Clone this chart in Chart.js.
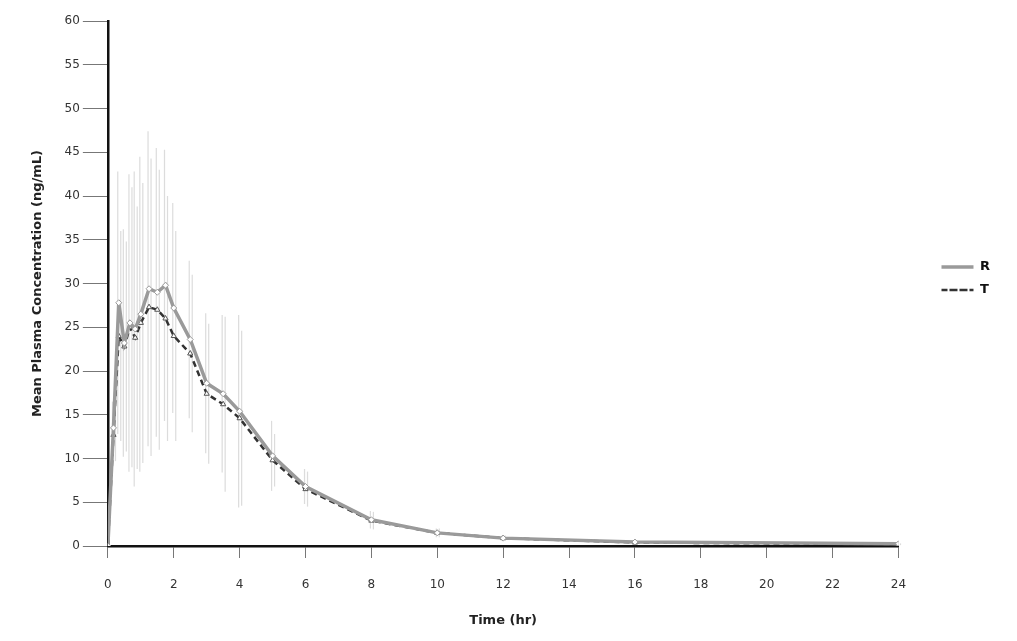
<!DOCTYPE html>
<html>
<head>
<meta charset="utf-8">
<script src="https://cdn.jsdelivr.net/npm/chart.js@4"></script>
<style>
  html, body { margin: 0; padding: 0; background: #fff; }
  #wrap { width: 1017px; height: 641px; }
</style>
</head>
<body>
<div id="wrap"><canvas id="myChart" width="1017" height="641"></canvas></div>
<script>
// sampling times (hr)
const times = [0, 0.17, 0.33, 0.5, 0.67, 0.83, 1, 1.25, 1.5, 1.75, 2, 2.5, 3, 3.5, 4, 5, 6, 8, 10, 12, 16, 24];

// mean concentrations (ng/mL)
const meanR = [0, 13.5, 27.8, 23.2, 25.5, 24.8, 26.5, 29.4, 29.0, 29.8, 27.2, 23.6, 18.6, 17.4, 15.4, 10.3, 6.8, 3.0, 1.5, 0.9, 0.45, 0.25];
const meanT = [0, 12.7, 24.0, 22.8, 25.0, 23.8, 25.5, 27.3, 27.0, 26.0, 24.0, 22.0, 17.4, 16.2, 14.6, 9.8, 6.5, 2.9, 1.5, 0.9, 0.4, 0.2];

// standard deviations
const sdR = [0, 3, 15, 13, 17, 18, 18, 18, 16.5, 15.5, 12, 9, 8, 9, 11, 4, 2, 1, 0.5, 0.3, 0.2, 0.1];
const sdT = [0, 3, 12, 12, 16, 15, 16, 17, 16, 14, 12, 9, 8, 10, 10, 3, 2, 1, 0.5, 0.3, 0.2, 0.1];

const xTicks = [0, 2, 4, 6, 8, 10, 12, 14, 16, 18, 20, 22, 24];
const yTicks = [0, 5, 10, 15, 20, 25, 30, 35, 40, 45, 50, 55, 60];

function toPoints(ys) {
  return times.map((t, i) => ({x: t, y: ys[i]}));
}

// vertical SD bars behind the lines
const errorBars = {
  id: 'errorBars',
  beforeDatasetsDraw(chart) {
    const ctx = chart.ctx;
    const xs = chart.scales.x;
    const ys = chart.scales.y;
    const sets = [[meanR, sdR], [meanT, sdT]];
    ctx.save();
    ctx.strokeStyle = 'rgba(185,185,185,0.5)';
    ctx.lineWidth = 1.2;
    sets.forEach(([m, sd], k) => {
      times.forEach((t, i) => {
        if (!sd[i]) return;
        const px = xs.getPixelForValue(t) + (k ? 2 : -1);
        ctx.beginPath();
        ctx.moveTo(px, ys.getPixelForValue(Math.max(m[i] - sd[i], 0)));
        ctx.lineTo(px, ys.getPixelForValue(m[i] + sd[i]));
        ctx.stroke();
      });
    });
    ctx.restore();
  }
};

// push the legend away from the plot and up a bit
const LEGEND_GAP = 33;
const LEGEND_LIFT = 48;
const legendPlace = {
  id: 'legendPlace',
  afterInit(chart) {
    const lg = chart.legend;
    const fit = lg.fit;
    lg.fit = function() {
      fit.call(this);
      this.width += LEGEND_GAP;
    };
  },
  afterLayout(chart) {
    const lg = chart.legend;
    lg.left += LEGEND_GAP;
    lg.top -= LEGEND_LIFT;
    lg.bottom -= LEGEND_LIFT;
  }
};

const data = {
  datasets: [{
    label: 'R',
    data: toPoints(meanR),
    borderColor: '#9a9a9a',
    backgroundColor: '#ffffff',
    borderWidth: 3.5,
    pointStyle: 'rectRot',
    pointRadius: 3,
    pointBorderWidth: 1,
    pointBorderColor: '#9a9a9a',
    tension: 0
  },
  {
    label: 'T',
    data: toPoints(meanT),
    borderColor: '#333333',
    backgroundColor: '#ffffff',
    borderWidth: 2.5,
    borderDash: [6, 4],
    pointStyle: 'triangle',
    pointRadius: 3,
    pointBorderWidth: 1,
    pointBorderColor: '#555555',
    tension: 0
  }]
};

const config = {
  type: 'line',
  data: data,
  options: {
    responsive: false,
    animation: false,
    layout: {
      padding: {top: 21, right: 17, left: 26, bottom: 9}
    },
    scales: {
      x: {
        type: 'linear',
        min: 0, max: 24,
        afterBuildTicks: (s) => { s.ticks = xTicks.map(v => ({value: v})); },
        grid: {drawOnChartArea: false, tickLength: 12, color: '#777', lineWidth: 1},
        border: {color: '#111', width: 2.5},
        ticks: {color: '#333', font: {family: 'DejaVu Sans', size: 12}, padding: 20, maxRotation: 0},
        title: {display: true, text: 'Time (hr)', color: '#222', font: {family: 'DejaVu Sans', size: 13, weight: 'bold'}, padding: {top: 0}}
      },
      y: {
        min: 0, max: 60,
        afterBuildTicks: (s) => { s.ticks = yTicks.map(v => ({value: v})); },
        grid: {drawOnChartArea: false, tickLength: 25, color: '#777', lineWidth: 1},
        border: {color: '#111', width: 2.5},
        ticks: {color: '#333', font: {family: 'DejaVu Sans', size: 12}, padding: 3},
        title: {display: true, text: 'Mean Plasma Concentration (ng/mL)', color: '#222', font: {family: 'DejaVu Sans', size: 13, weight: 'bold'}, padding: {bottom: 16}}
      }
    },
    plugins: {
      legend: {
        position: 'right',
        labels: {
          boxWidth: 32,
          boxHeight: 0,
          color: '#111',
          padding: 10,
          font: {family: 'DejaVu Sans', size: 13, weight: 'bold'}
        }
      },
      tooltip: {enabled: false}
    }
  },
  plugins: [errorBars, legendPlace]
};

const myChart = new Chart(document.getElementById('myChart'), config);
</script>
</body>
</html>
